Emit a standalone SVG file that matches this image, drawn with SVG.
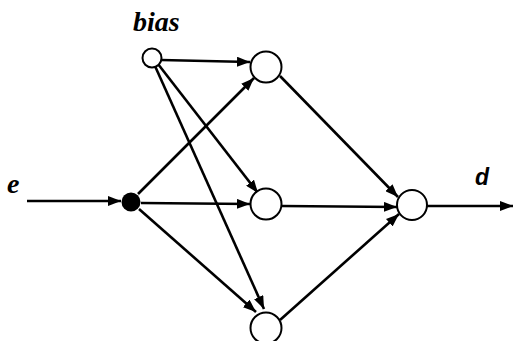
<svg xmlns="http://www.w3.org/2000/svg" width="514" height="341" viewBox="0 0 514 341">
<style>
.edge{stroke:#000;stroke-width:2.6;fill:none;marker-end:url(#ah)}
.node{fill:#fff;stroke:#000;stroke-width:2}
.lbl{font-family:"Liberation Serif","Times New Roman",serif;font-weight:bold;font-style:italic;fill:#000}
</style>
<defs>
<marker id="ah" markerWidth="13" markerHeight="10" refX="13" refY="5" orient="auto" markerUnits="userSpaceOnUse">
<path d="M0,0 L13,5 L0,10 Z" fill="#000"/>
</marker>
</defs>
<rect width="514" height="341" fill="#fff"/>
<g id="connectors">
<line class="edge" x1="27" y1="201" x2="121" y2="201"/>
<line class="edge" x1="161" y1="60" x2="250" y2="62"/>
<line class="edge" x1="158" y1="64" x2="258" y2="193"/>
<line class="edge" x1="155" y1="66" x2="264" y2="309"/>
<line class="edge" x1="138" y1="194" x2="254" y2="78"/>
<line class="edge" x1="141" y1="203" x2="250" y2="204"/>
<line class="edge" x1="139" y1="209" x2="256" y2="312"/>
<line class="edge" x1="280" y1="76" x2="398" y2="197"/>
<line class="edge" x1="282" y1="206" x2="397" y2="207"/>
<line class="edge" x1="280" y1="320" x2="399" y2="214"/>
<line class="edge" x1="427" y1="206" x2="513" y2="206"/>
</g>
<g id="bias"><circle class="node" cx="152" cy="58" r="9.5"/><text class="lbl" x="133" y="31" font-size="28">bias</text></g>
<g id="input"><circle cx="131" cy="202" r="9.5" fill="#000"/><text class="lbl" x="7" y="193" font-size="28">e</text></g>
<g id="h1"><circle class="node" cx="266" cy="67" r="15.5"/></g>
<g id="h2"><circle class="node" cx="266" cy="204" r="15.5"/></g>
<g id="h3"><circle class="node" cx="266" cy="328" r="15.5"/></g>
<g id="output"><circle class="node" cx="412" cy="205" r="15"/><text x="475" y="185" font-family="'Liberation Sans',Arial,sans-serif" font-weight="bold" font-style="italic" font-size="23">d</text></g>
</svg>
